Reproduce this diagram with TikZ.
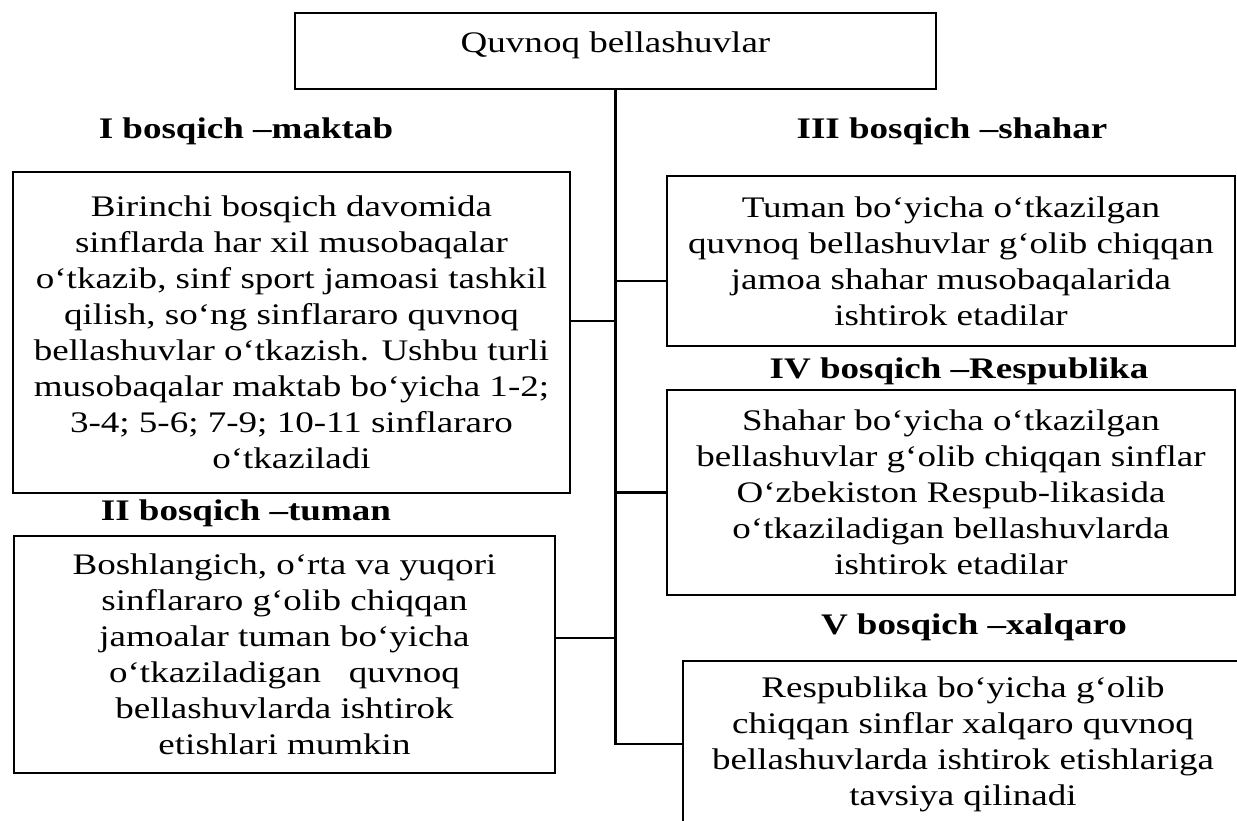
\documentclass[tikz,border=0pt]{standalone}
\usepackage{fontspec}
\setmainfont{Liberation Serif}[FakeStretch=1.24]
\usepackage{tikz}

\begin{document}
\begin{tikzpicture}[x=0.02cm,y=-0.02cm,line width=1.2pt,
   font=\fontsize{17}{20.5}\selectfont,
   box/.style={draw,align=center,inner sep=0pt},
   stage/.style={font=\fontsize{17}{20.5}\selectfont\bfseries,anchor=base}]
   \path[use as bounding box,clip] (0,0) rectangle (1237,821); % page

   \node [box,minimum width=12.82cm,minimum height=1.52cm,text depth=0.37cm] (top) at (615.5,51) {Quvnoq bellashuvlar};

   % left side
   \node [stage] (st1) at (246,138) {I bosqich –maktab};
   \node [box,minimum width=11.14cm,minimum height=6.42cm] (one) at (291.5,332.5) {Birinchi bosqich davomida\\ sinflarda har xil musobaqalar\\ o‘tkazib, sinf sport jamoasi tashkil\\ qilish, so‘ng sinflararo quvnoq\\ bellashuvlar o‘tkazish. Ushbu turli\\ musobaqalar maktab bo‘yicha 1-2;\\ 3-4; 5-6; 7-9; 10-11 sinflararo\\ o‘tkaziladi};
   \node [stage] (st2) at (246,520) {II bosqich –tuman};
   \node [box,minimum width=10.82cm,minimum height=4.74cm] (two) at (284.5,654.5) {Boshlangich, o‘rta va yuqori\\ sinflararo g‘olib chiqqan\\ jamoalar tuman bo‘yicha\\ o‘tkaziladigan \ \ quvnoq\\ bellashuvlarda ishtirok\\ etishlari mumkin};

   % right side
   \node [stage] (st3) at (952,138) {III bosqich –shahar};
   \node [box,minimum width=11.36cm,minimum height=3.4cm] (three) at (951,261) {Tuman bo‘yicha o‘tkazilgan\\ quvnoq bellashuvlar g‘olib chiqqan\\ jamoa shahar musobaqalarida\\ ishtirok etadilar};
   \node [stage] (st4) at (959,378) {IV bosqich –Respublika};
   \node [box,minimum width=11.36cm,minimum height=4.1cm] (four) at (951,492.5) {Shahar bo‘yicha o‘tkazilgan\\ bellashuvlar g‘olib chiqqan sinflar\\ O‘zbekiston Respub-likasida\\ o‘tkaziladigan bellashuvlarda\\ ishtirok etadilar};
   \node [stage] (st5) at (974,634) {V bosqich –xalqaro};
   \node [box,minimum width=11.2cm,minimum height=3.32cm] (five) at (963,744) {Respublika bo‘yicha g‘olib\\ chiqqan sinflar xalqaro quvnoq\\ bellashuvlarda ishtirok etishlariga\\ tavsiya qilinadi};

   % connectors
   \draw (top.south) |- (five.west); % trunk
   \coordinate (c1) at ([yshift=0.23cm]one.east);
   \coordinate (c2) at ([yshift=0.33cm]two.east);
   \coordinate (c3) at ([yshift=-0.4cm]three.west);
   \draw (c1) -- (c1 -| top.south);
   \draw (c2) -- (c2 -| top.south);
   \draw (c3) -- (c3 -| top.south);
   \draw (four.west) -- (four.west -| top.south);
\end{tikzpicture}
\end{document}
